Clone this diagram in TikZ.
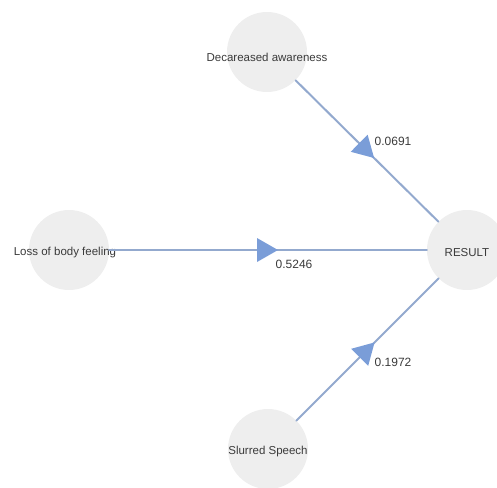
\documentclass[tikz,border=0pt]{standalone}
\usepackage{fontspec}
\setmainfont{Liberation Sans}
\usetikzlibrary{decorations.markings}
\definecolor{nodegray}{HTML}{EEEEEE}
\definecolor{edgeblue}{HTML}{93A9CE}
\definecolor{tipblue}{HTML}{7A9DD8}
\definecolor{textgray}{HTML}{3A3A3A}

\begin{document}
\begin{tikzpicture}[x=1pt,y=-1pt,line cap=round,line join=round,
  factor/.style={circle,fill=nodegray,minimum size=80pt,inner sep=0pt},
  factortext/.style={font=\fontsize{11.5}{13}\selectfont,text=textgray},
  link/.style={edgeblue,line width=2pt,postaction={decorate},
    decoration={markings,mark=at position 0.5 with
      {\fill[tipblue] (10pt,0pt) -- (-11pt,12pt) -- (-11pt,-12pt) -- cycle;}}},
  weight/.style={font=\fontsize{12}{14}\selectfont,text=textgray}]
  \useasboundingbox (0,0) rectangle (497,487);

  % factors
  \node[factor,label={[factortext,yshift=-5pt]center:Decareased awareness}] (aware) at (267,52) {};
  \node[factor,label={[factortext,yshift=-3pt,xshift=-4pt]center:Loss of body feeling}] (loss) at (69,250) {};
  \node[factor,label={[factortext,yshift=-3pt]center:Slurred Speech}] (speech) at (268,449) {};
  \node[factor,label={[factortext,yshift=-3pt]center:RESULT}] (result) at (467,250) {};

  % links
  \draw[link] (aware) -- (result);
  \draw[link] (loss) -- (result);
  \draw[link] (speech) -- (result);

  % weights
  \node[weight] (waware) at (393,141) {0.0691};
  \node[weight] (wloss) at (294,264) {0.5246};
  \node[weight] (wspeech) at (393,362) {0.1972};
\end{tikzpicture}
\end{document}
